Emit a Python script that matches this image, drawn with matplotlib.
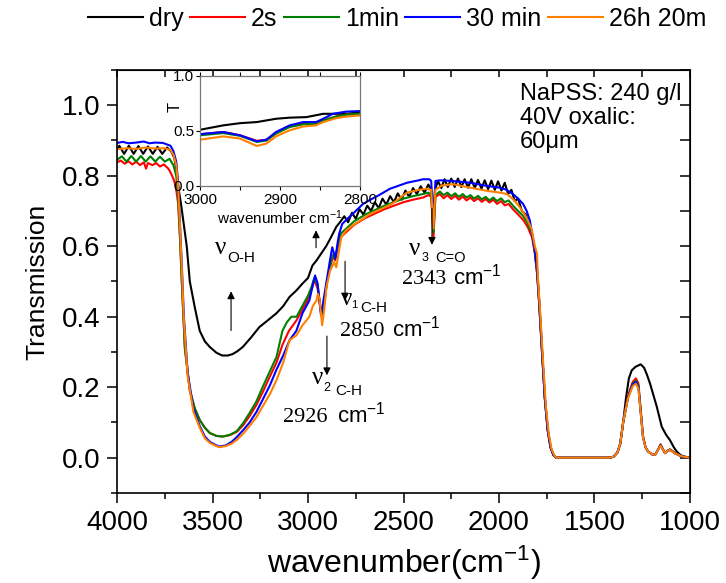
import numpy as np
import matplotlib
matplotlib.use("Agg")
import matplotlib.pyplot as plt
from matplotlib.ticker import MultipleLocator

plt.rcParams["font.family"] = ["Liberation Sans", "DejaVu Sans"]
plt.rcParams["mathtext.default"] = "regular"

# ============================================================
# Data: (wavenumber, transmission)
# ============================================================
labels = ["dry", "2s", "1min", "30 min", "26h 20m"]
colors = ["black", "#ff0000", "#008000", "#0000ff", "#ff8000"]

dry = [
    (4000, 0.875), (3988, 0.885), (3963, 0.862), (3938, 0.885), (3913, 0.862), (3888, 0.884),
    (3863, 0.862), (3838, 0.883), (3813, 0.862), (3788, 0.882), (3763, 0.862), (3738, 0.88),
    (3715, 0.868), (3700, 0.85), (3690, 0.82), (3680, 0.77), (3665, 0.72), (3650, 0.66),
    (3635, 0.60), (3619, 0.50), (3593, 0.427), (3567, 0.36), (3540, 0.33), (3514, 0.314),
    (3480, 0.298), (3450, 0.29), (3420, 0.29), (3395, 0.294), (3370, 0.302), (3342, 0.314),
    (3300, 0.34), (3254, 0.371), (3210, 0.39), (3165, 0.41), (3130, 0.43), (3097, 0.456),
    (3060, 0.475), (3029, 0.494), (3000, 0.51), (2977, 0.545), (2955, 0.56), (2930, 0.58),
    (2905, 0.60), (2880, 0.625), (2852, 0.655), (2830, 0.67), (2810, 0.685), (2790, 0.668),
    (2770, 0.695), (2750, 0.678), (2730, 0.705), (2710, 0.69), (2690, 0.715), (2670, 0.70),
    (2650, 0.725), (2630, 0.708), (2610, 0.735), (2590, 0.718), (2570, 0.742), (2550, 0.725),
    (2530, 0.75), (2510, 0.732), (2490, 0.758), (2470, 0.74), (2450, 0.765), (2430, 0.748),
    (2410, 0.77), (2390, 0.752), (2370, 0.775), (2355, 0.76), (2345, 0.69), (2335, 0.76),
    (2320, 0.785), (2302, 0.765), (2285, 0.79), (2268, 0.768), (2250, 0.792), (2232, 0.768),
    (2215, 0.792), (2197, 0.768), (2180, 0.79), (2162, 0.766), (2145, 0.79), (2127, 0.765),
    (2110, 0.788), (2092, 0.763), (2075, 0.787), (2057, 0.762), (2040, 0.786), (2022, 0.76),
    (2005, 0.784), (1987, 0.758), (1970, 0.78), (1952, 0.748), (1935, 0.76), (1918, 0.728),
    (1900, 0.735), (1880, 0.70), (1860, 0.69), (1840, 0.655), (1825, 0.63), (1812, 0.58),
    (1800, 0.52), (1790, 0.44), (1775, 0.30), (1760, 0.17), (1745, 0.08), (1730, 0.03),
    (1715, 0.008), (1700, 0.0), (1600, 0.0), (1500, 0.0), (1420, 0.0), (1400, 0.003),
    (1380, 0.015), (1365, 0.04), (1350, 0.1), (1335, 0.17), (1320, 0.225), (1305, 0.248),
    (1285, 0.258), (1258, 0.265), (1240, 0.255), (1225, 0.235), (1209, 0.21), (1190, 0.175),
    (1174, 0.145), (1160, 0.115), (1148, 0.088), (1125, 0.065), (1105, 0.05), (1085, 0.03),
    (1070, 0.018), (1050, 0.008), (1037, 0.004), (1000, 0.0),
]

s2 = [
    (4000, 0.838), (3980, 0.843), (3960, 0.834), (3940, 0.841), (3920, 0.832), (3900, 0.84),
    (3880, 0.83), (3860, 0.838), (3848, 0.82), (3838, 0.836), (3815, 0.83), (3795, 0.836),
    (3775, 0.826), (3755, 0.832), (3735, 0.822), (3725, 0.815), (3712, 0.80), (3700, 0.785),
    (3690, 0.76), (3680, 0.72), (3670, 0.62), (3661, 0.50), (3645, 0.31), (3619, 0.19),
    (3593, 0.14), (3567, 0.107), (3540, 0.085), (3514, 0.07), (3480, 0.062), (3447, 0.06),
    (3410, 0.064), (3374, 0.073), (3340, 0.092), (3306, 0.118), (3270, 0.15), (3238, 0.185),
    (3200, 0.23), (3165, 0.27), (3134, 0.32), (3100, 0.36), (3060, 0.39), (3030, 0.42),
    (3000, 0.45), (2985, 0.47), (2967, 0.505), (2950, 0.48), (2930, 0.405), (2915, 0.44),
    (2900, 0.50), (2880, 0.55), (2870, 0.57), (2858, 0.56), (2845, 0.595), (2830, 0.625),
    (2800, 0.64), (2760, 0.66), (2700, 0.68), (2660, 0.69), (2600, 0.705), (2550, 0.715),
    (2500, 0.725), (2450, 0.732), (2398, 0.738), (2370, 0.745), (2355, 0.74), (2343, 0.625),
    (2333, 0.74), (2310, 0.748), (2290, 0.736), (2270, 0.745), (2250, 0.734), (2230, 0.743),
    (2210, 0.732), (2190, 0.741), (2170, 0.73), (2150, 0.738), (2130, 0.728), (2110, 0.736),
    (2090, 0.726), (2070, 0.734), (2050, 0.724), (2030, 0.732), (2010, 0.72), (1990, 0.728),
    (1970, 0.716), (1950, 0.72), (1927, 0.705), (1900, 0.69), (1874, 0.675), (1850, 0.655),
    (1827, 0.625), (1812, 0.58), (1800, 0.52), (1790, 0.44), (1775, 0.30), (1760, 0.165),
    (1745, 0.075), (1730, 0.028), (1715, 0.007), (1700, 0.0), (1600, 0.0), (1500, 0.0),
    (1420, 0.0), (1400, 0.003), (1380, 0.015), (1365, 0.04), (1350, 0.1), (1325, 0.175),
    (1300, 0.215), (1283, 0.225), (1270, 0.21), (1262, 0.16), (1246, 0.062), (1233, 0.03),
    (1220, 0.018), (1200, 0.01), (1183, 0.008), (1165, 0.026), (1154, 0.038), (1143, 0.026),
    (1131, 0.013), (1118, 0.02), (1105, 0.024), (1090, 0.018), (1079, 0.013), (1060, 0.008),
    (1044, 0.004), (1000, 0.0),
]

min1 = [
    (4000, 0.845), (3975, 0.855), (3950, 0.84), (3925, 0.856), (3900, 0.84), (3875, 0.856),
    (3850, 0.84), (3825, 0.855), (3800, 0.84), (3775, 0.854), (3750, 0.84), (3725, 0.848),
    (3705, 0.83), (3690, 0.80), (3680, 0.74), (3670, 0.62), (3661, 0.503), (3645, 0.314),
    (3619, 0.192), (3593, 0.14), (3567, 0.107), (3540, 0.085), (3514, 0.07), (3480, 0.062),
    (3447, 0.06), (3410, 0.065), (3374, 0.075), (3340, 0.098), (3306, 0.127), (3270, 0.16),
    (3238, 0.20), (3200, 0.245), (3165, 0.286), (3134, 0.36), (3110, 0.385), (3087, 0.40),
    (3060, 0.40), (3030, 0.43), (3000, 0.46), (2985, 0.48), (2967, 0.51), (2950, 0.49),
    (2930, 0.405), (2915, 0.44), (2900, 0.50), (2880, 0.555), (2870, 0.575), (2858, 0.565),
    (2845, 0.60), (2830, 0.635), (2800, 0.65), (2760, 0.67), (2700, 0.69), (2660, 0.70),
    (2600, 0.715), (2550, 0.725), (2500, 0.735), (2450, 0.742), (2398, 0.748), (2370, 0.752),
    (2355, 0.745), (2343, 0.64), (2333, 0.745), (2310, 0.755), (2290, 0.745), (2270, 0.752),
    (2250, 0.742), (2230, 0.75), (2210, 0.74), (2190, 0.748), (2170, 0.738), (2150, 0.745),
    (2130, 0.735), (2110, 0.743), (2090, 0.733), (2070, 0.74), (2050, 0.73), (2030, 0.738),
    (2010, 0.728), (1990, 0.736), (1970, 0.725), (1950, 0.73), (1927, 0.715), (1900, 0.70),
    (1874, 0.686), (1850, 0.665), (1827, 0.636), (1812, 0.588), (1800, 0.53), (1790, 0.45),
    (1775, 0.31), (1760, 0.17), (1745, 0.08), (1730, 0.03), (1715, 0.008), (1700, 0.0),
    (1600, 0.0), (1500, 0.0), (1420, 0.0), (1400, 0.003), (1380, 0.015), (1365, 0.04),
    (1350, 0.1), (1325, 0.17), (1300, 0.21), (1283, 0.218), (1270, 0.205), (1262, 0.155),
    (1246, 0.06), (1233, 0.03), (1220, 0.018), (1200, 0.01), (1183, 0.008), (1165, 0.025),
    (1154, 0.037), (1143, 0.025), (1131, 0.013), (1118, 0.02), (1105, 0.023), (1090, 0.018),
    (1079, 0.013), (1060, 0.008), (1044, 0.004), (1000, 0.0),
]

min30 = [
    (4000, 0.893), (3970, 0.896), (3940, 0.892), (3900, 0.894), (3860, 0.897), (3830, 0.892),
    (3800, 0.894), (3760, 0.893), (3720, 0.885), (3705, 0.87), (3690, 0.84), (3680, 0.78),
    (3670, 0.66), (3661, 0.55), (3650, 0.40), (3630, 0.24), (3600, 0.14), (3567, 0.09),
    (3540, 0.06), (3514, 0.045), (3480, 0.035), (3462, 0.032), (3430, 0.035), (3400, 0.045),
    (3374, 0.058), (3340, 0.078), (3306, 0.10), (3270, 0.13), (3238, 0.164), (3200, 0.205),
    (3165, 0.25), (3130, 0.29), (3097, 0.333), (3061, 0.36), (3029, 0.41), (2993, 0.446),
    (2975, 0.49), (2963, 0.517), (2950, 0.495), (2932, 0.404), (2918, 0.45), (2900, 0.51),
    (2885, 0.56), (2873, 0.597), (2857, 0.565), (2845, 0.61), (2837, 0.635), (2821, 0.663),
    (2790, 0.68), (2769, 0.69), (2712, 0.72), (2680, 0.73), (2628, 0.745), (2571, 0.763),
    (2482, 0.78), (2420, 0.787), (2398, 0.79), (2365, 0.79), (2355, 0.785), (2343, 0.66),
    (2333, 0.785), (2309, 0.787), (2241, 0.785), (2150, 0.78), (2063, 0.771), (1995, 0.766),
    (1960, 0.76), (1927, 0.748), (1900, 0.735), (1874, 0.72), (1855, 0.70), (1838, 0.672),
    (1812, 0.588), (1800, 0.53), (1790, 0.45), (1775, 0.31), (1760, 0.17), (1745, 0.08),
    (1730, 0.03), (1715, 0.008), (1700, 0.0), (1600, 0.0), (1500, 0.0), (1420, 0.0),
    (1400, 0.003), (1380, 0.015), (1365, 0.04), (1350, 0.1), (1325, 0.17), (1300, 0.208),
    (1283, 0.215), (1270, 0.2), (1262, 0.152), (1246, 0.058), (1233, 0.03), (1220, 0.018),
    (1200, 0.01), (1183, 0.008), (1165, 0.024), (1154, 0.035), (1143, 0.024), (1131, 0.013),
    (1118, 0.019), (1105, 0.022), (1090, 0.017), (1079, 0.012), (1060, 0.008), (1044, 0.004),
    (1000, 0.0),
]

h26 = [
    (4000, 0.875), (3950, 0.878), (3900, 0.876), (3850, 0.88), (3800, 0.877), (3750, 0.878),
    (3720, 0.873), (3705, 0.86), (3690, 0.83), (3680, 0.77), (3670, 0.65), (3661, 0.54),
    (3650, 0.39), (3630, 0.23), (3600, 0.13), (3567, 0.085), (3540, 0.055), (3514, 0.042),
    (3480, 0.033), (3462, 0.03), (3430, 0.033), (3400, 0.04), (3374, 0.05), (3340, 0.068),
    (3306, 0.09), (3270, 0.115), (3238, 0.145), (3200, 0.18), (3165, 0.22), (3130, 0.27),
    (3097, 0.333), (3080, 0.34), (3061, 0.347), (3030, 0.375), (2993, 0.40), (2975, 0.43),
    (2956, 0.446), (2948, 0.465), (2940, 0.45), (2926, 0.376), (2915, 0.42), (2904, 0.483),
    (2885, 0.53), (2863, 0.555), (2852, 0.54), (2840, 0.58), (2826, 0.625), (2800, 0.645),
    (2769, 0.658), (2720, 0.675), (2680, 0.69), (2620, 0.705), (2560, 0.72), (2482, 0.752),
    (2420, 0.76), (2377, 0.763), (2355, 0.76), (2343, 0.65), (2333, 0.76), (2300, 0.772),
    (2241, 0.776), (2150, 0.766), (2063, 0.757), (1995, 0.752), (1958, 0.748), (1920, 0.73),
    (1890, 0.71), (1860, 0.685), (1830, 0.65), (1812, 0.60), (1801, 0.579), (1795, 0.50),
    (1785, 0.42), (1770, 0.28), (1755, 0.15), (1740, 0.07), (1725, 0.025), (1710, 0.006),
    (1700, 0.0), (1600, 0.0), (1500, 0.0), (1420, 0.0), (1400, 0.003), (1380, 0.015),
    (1365, 0.04), (1350, 0.1), (1325, 0.168), (1300, 0.203), (1283, 0.21), (1270, 0.196),
    (1262, 0.15), (1246, 0.057), (1233, 0.03), (1220, 0.018), (1200, 0.01), (1183, 0.008),
    (1165, 0.024), (1154, 0.034), (1143, 0.024), (1131, 0.013), (1118, 0.019), (1105, 0.022),
    (1090, 0.017), (1079, 0.012), (1060, 0.008), (1044, 0.004), (1000, 0.0),
]

# inset: 3000-2800 cm-1 close-up
ins_dry = [(3000, 0.51), (2971, 0.55), (2950, 0.57), (2929, 0.58), (2905, 0.61), (2888, 0.62),
           (2867, 0.625), (2846, 0.655), (2830, 0.655), (2817, 0.655), (2800, 0.67)]
ins_s2 = [(3000, 0.47), (2971, 0.49), (2950, 0.46), (2929, 0.41), (2917, 0.42), (2905, 0.48),
          (2888, 0.54), (2871, 0.565), (2855, 0.565), (2846, 0.595), (2830, 0.63), (2817, 0.648),
          (2800, 0.655)]
ins_min1 = [(3000, 0.46), (2971, 0.48), (2950, 0.455), (2929, 0.40), (2917, 0.412), (2905, 0.475),
            (2888, 0.535), (2871, 0.56), (2855, 0.565), (2846, 0.595), (2830, 0.63), (2817, 0.648),
            (2800, 0.655)]
ins_min30 = [(3000, 0.47), (2971, 0.49), (2950, 0.46), (2929, 0.405), (2917, 0.42), (2905, 0.49),
             (2888, 0.55), (2871, 0.58), (2855, 0.58), (2846, 0.61), (2834, 0.655), (2817, 0.675),
             (2800, 0.68)]
ins_h26 = [(3000, 0.42), (2971, 0.45), (2950, 0.43), (2929, 0.363), (2917, 0.385), (2905, 0.45),
           (2888, 0.505), (2871, 0.54), (2855, 0.55), (2846, 0.58), (2830, 0.615), (2817, 0.63),
           (2800, 0.64)]

series = [dry, s2, min1, min30, h26]
inset_series = [ins_dry, ins_s2, ins_min1, ins_min30, ins_h26]

# ============================================================
# Figure
# ============================================================
fig = plt.figure(figsize=(7.26, 5.83), dpi=100)
ax = fig.add_axes([0.1612, 0.1544, 0.7892, 0.7256])

handles = []
for data, col, lab in zip(series, colors, labels):
    arr = np.array(data)
    h, = ax.plot(arr[:, 0], arr[:, 1], color=col, lw=1.5, label=lab)
    handles.append(h)

ax.set_xlim(4000, 1000)
ax.set_ylim(-0.1, 1.1)
ax.xaxis.set_major_locator(MultipleLocator(500))
ax.xaxis.set_minor_locator(MultipleLocator(250))
ax.set_yticks([0.0, 0.2, 0.4, 0.6, 0.8, 1.0])
ax.yaxis.set_minor_locator(MultipleLocator(0.1))
ax.yaxis.set_major_formatter(plt.FuncFormatter(lambda v, p: f"{v:.1f}"))
ax.tick_params(which="major", direction="out", length=7, width=1.1, labelsize=20, pad=5)
ax.tick_params(which="minor", direction="out", length=4, width=1.1)
for s in ax.spines.values():
    s.set_linewidth(1.2)

# mirrored ticks (inward) on top and right
top = ax.secondary_xaxis("top")
top.xaxis.set_major_locator(MultipleLocator(250))
top.tick_params(direction="in", length=5, width=1.1, labeltop=False)
right = ax.secondary_yaxis("right")
right.yaxis.set_major_locator(MultipleLocator(0.1))
right.tick_params(direction="in", length=7, width=1.1, labelright=False)

ax.set_xlabel("wavenumber(cm$^{-1}$)", fontsize=23, labelpad=6)
ax.set_ylabel("Transmission", fontsize=19, labelpad=9)

fig.legend(handles, labels, loc="center", bbox_to_anchor=(0.547, 0.967), ncol=5,
           frameon=False, handlelength=2.2, handletextpad=0.25, columnspacing=0.25,
           prop={"family": ["Liberation Sans Narrow", "Liberation Sans"], "size": 18})

ax.text(1890, 1.062, "NaPSS: 240 g/l\n40V oxalic:\n60\u03bcm", fontsize=17,
        va="top", ha="left", linespacing=1.12)

# ---------- annotations ----------
arrow = dict(arrowstyle="-|>", color="black", lw=0.8, mutation_scale=11)
ax.annotate("", xy=(3403, 0.480), xytext=(3403, 0.353), arrowprops=arrow)
ax.annotate("", xy=(2958, 0.653), xytext=(2958, 0.588), arrowprops=arrow)
ax.annotate("", xy=(2806, 0.438), xytext=(2806, 0.565), arrowprops=arrow)
ax.annotate("", xy=(2901, 0.226), xytext=(2901, 0.353), arrowprops=arrow)
ax.annotate("", xy=(2351, 0.596), xytext=(2351, 0.715), arrowprops=arrow)

serif = ["Liberation Serif", "DejaVu Serif"]
# O-H
ax.text(3455, 0.596, "\u03bd", family=serif, fontsize=18, ha="center", va="center")
ax.text(3424, 0.568, "O-H", fontsize=11, ha="left", va="center")
# 2850
ax.text(2796, 0.449, "\u03bd", family=serif, fontsize=18, ha="center", va="center")
ax.text(2772, 0.432, "1", fontsize=8, ha="left", va="center")
ax.text(2728, 0.426, "C-H", fontsize=11, ha="left", va="center")
ax.text(2833, 0.345, "2850", family=serif, fontsize=16, ha="left", va="baseline")
ax.text(2560, 0.345, "cm$^{-1}$", fontsize=16, ha="left", va="baseline")
# 2926
ax.text(2948, 0.226, "\u03bd", family=serif, fontsize=18, ha="center", va="center")
ax.text(2922, 0.197, "2", fontsize=9, ha="left", va="center")
ax.text(2859, 0.188, "C-H", fontsize=11, ha="left", va="center")
ax.text(3131, 0.100, "2926", family=serif, fontsize=16, ha="left", va="baseline")
ax.text(2848, 0.100, "cm$^{-1}$", fontsize=16, ha="left", va="baseline")
# 2343
ax.text(2440, 0.592, "\u03bd", family=serif, fontsize=18, ha="center", va="center")
ax.text(2403, 0.567, "3", fontsize=9, ha="left", va="center")
ax.text(2335, 0.566, "C=O", fontsize=10.5, ha="left", va="center")
ax.text(2508, 0.492, "2343", family=serif, fontsize=16, ha="left", va="baseline")
ax.text(2241, 0.492, "cm$^{-1}$", fontsize=16, ha="left", va="baseline")

# ---------- inset ----------
axi = fig.add_axes([0.2755, 0.681, 0.2204, 0.189])
for data, col in zip(inset_series, colors):
    arr = np.array(data)
    axi.plot(arr[:, 0], arr[:, 1], color=col, lw=1.5)
axi.set_xlim(3000, 2800)
axi.set_ylim(0, 1)
axi.set_xticks([3000, 2900, 2800])
axi.xaxis.set_minor_locator(MultipleLocator(50))
axi.set_yticks([0.0, 0.5, 1.0])
axi.yaxis.set_major_formatter(plt.FuncFormatter(lambda v, p: f"{v:.1f}"))
axi.tick_params(which="both", direction="out", length=3, width=0.8, labelsize=11, pad=1,
                top=True, right=False)
axi.tick_params(axis="x", pad=2)
for s in axi.spines.values():
    s.set_linewidth(0.9)
    s.set_color("#777777")
axi.set_xlabel("wavenumber cm$^{-1}$", fontsize=11, labelpad=1)
axi.set_ylabel("T", fontsize=12)
axi.yaxis.set_label_coords(-0.11, 0.72)

fig.savefig("out.png", dpi=100)
